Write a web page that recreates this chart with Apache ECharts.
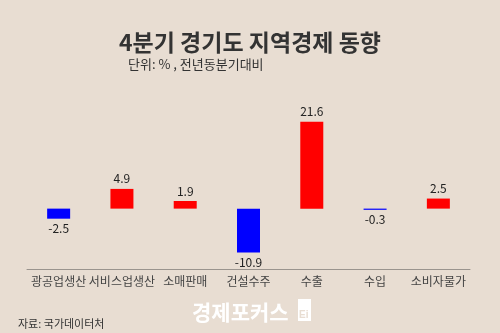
<!DOCTYPE html>
<html>
<head>
<meta charset="utf-8">
<script src="https://cdn.jsdelivr.net/npm/echarts@6/dist/echarts.min.js"></script>
<style>
html,body{margin:0;padding:0;background:#e8ddd2;}
#chart{width:500px;height:333px;}
</style>
</head>
<body>
<div id="chart"></div>
<script>
// 4분기 경기도 지역경제 동향 (전년동분기대비, %)
const categories = ['광공업생산', '서비스업생산', '소매판매', '건설수주', '수출', '수입', '소비자물가'];
const values = [-2.5, 4.9, 1.9, -10.9, 21.6, -0.3, 2.5];

const FONT = '"Noto Sans CJK KR", "Noto Sans", sans-serif';
const chart = echarts.init(document.getElementById('chart'));

chart.setOption({
  backgroundColor: '#e8ddd2',
  animation: false,
  title: [
    {
      text: '4분기 경기도 지역경제 동향',
      left: 'center',
      top: 26,
      textStyle: { fontFamily: FONT, fontSize: 23, fontWeight: 'bold', color: '#333' }
    },
    {
      text: '단위: % , 전년동분기대비',
      left: 123,
      top: 53,
      textStyle: { fontFamily: FONT, fontSize: 13, fontWeight: 'normal', color: '#333' }
    },
    {
      text: '자료: 국가데이터처',
      left: 13,
      top: 313,
      textStyle: { fontFamily: FONT, fontSize: 11, fontWeight: 'normal', color: '#333' }
    }
  ],
  grid: { left: 27, right: 30, top: 108, bottom: 64 },
  xAxis: {
    type: 'category',
    data: categories,
    position: 'bottom',
    axisLine: { onZero: false, lineStyle: { color: '#9a948e', width: 1 } },
    axisTick: { show: false },
    axisLabel: { fontFamily: FONT, fontSize: 12, color: '#444', margin: 6, interval: 0 }
  },
  yAxis: {
    type: 'value',
    min: -15,
    max: 25,
    show: false,
    splitLine: { show: false }
  },
  series: [{
    type: 'bar',
    barWidth: 23,
    data: values.map(v => ({
      value: v,
      itemStyle: { color: v >= 0 ? '#ff0000' : '#0000ff' },
      label: { position: v >= 0 ? 'top' : 'bottom' }
    })),
    label: {
      show: true,
      distance: 4,
      fontFamily: FONT,
      fontSize: 12,
      color: '#222'
    }
  }],
  graphic: [
    {
      type: 'text',
      left: 192,
      top: 302,
      style: { text: '경제포커스', fontFamily: FONT, fontSize: 21, fontWeight: 'bold', fill: '#ffffff' }
    },
    {
      type: 'rect',
      shape: { x: 298, y: 299, width: 13, height: 22 },
      style: { fill: '#ffffff' }
    },
    {
      type: 'text',
      left: 299,
      top: 310,
      style: { text: 'Ei', fontFamily: 'Liberation Sans', fontSize: 10, fontWeight: 'bold', fill: '#e8ddd2' }
    }
  ]
});
</script>
</body>
</html>
